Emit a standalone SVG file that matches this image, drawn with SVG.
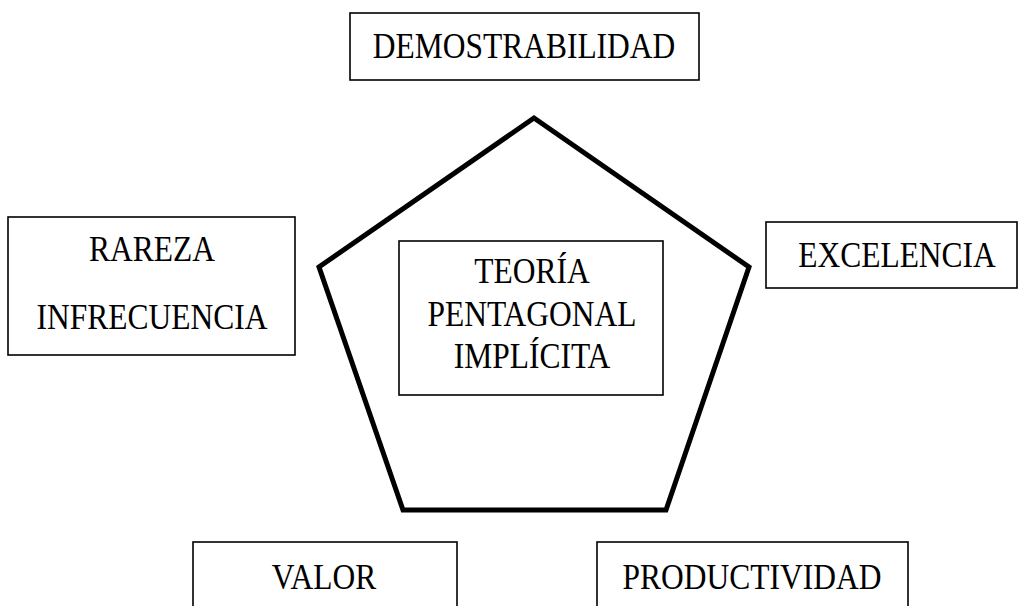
<svg xmlns="http://www.w3.org/2000/svg" width="1019" height="606" viewBox="0 0 1019 606">
<style>
.box{fill:#fff;stroke:#000;stroke-width:1.6}
.pent{fill:#fff;stroke:#000;stroke-width:5;stroke-linejoin:miter}
.t{font-family:"Liberation Serif","Times New Roman",serif;font-size:31.5px;fill:#000;text-anchor:middle}
</style>
<rect width="1019" height="606" fill="#fff"/>
<g id="pentagon">
<polygon class="pent" points="534,118 749,267 666,510 403,510 319,267"/>
</g>
<g id="center">
<rect class="box" x="399" y="241" width="264" height="154"/>
<text class="t" transform="translate(532,283) scale(1,1.12)">TEORÍA</text>
<text class="t" transform="translate(532,326) scale(1,1.12)">PENTAGONAL</text>
<text class="t" transform="translate(532,368) scale(1,1.12)">IMPLÍCITA</text>
</g>
<g id="demostrabilidad">
<rect class="box" x="350" y="13" width="349" height="67"/>
<text class="t" transform="translate(524,58) scale(1,1.12)">DEMOSTRABILIDAD</text>
</g>
<g id="rareza">
<rect class="box" x="8" y="217" width="287" height="138"/>
<text class="t" transform="translate(152,261) scale(1,1.12)">RAREZA</text>
<text class="t" transform="translate(152,329) scale(1,1.12)">INFRECUENCIA</text>
</g>
<g id="excelencia">
<rect class="box" x="766" y="222" width="251" height="66"/>
<text class="t" transform="translate(897,267) scale(1,1.12)">EXCELENCIA</text>
</g>
<g id="valor">
<rect class="box" x="193" y="542" width="264" height="80"/>
<text class="t" transform="translate(324,589) scale(1,1.12)">VALOR</text>
</g>
<g id="productividad">
<rect class="box" x="597" y="542" width="311" height="80"/>
<text class="t" transform="translate(752,589) scale(1,1.12)">PRODUCTIVIDAD</text>
</g>
<g id="connectors"/>
</svg>
